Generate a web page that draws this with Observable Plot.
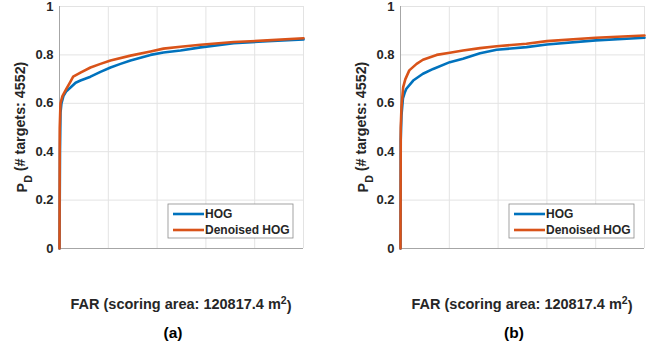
<!DOCTYPE html>
<html><head><meta charset="utf-8">
<script src="https://cdn.jsdelivr.net/npm/d3@7"></script>
<script src="https://cdn.jsdelivr.net/npm/@observablehq/plot@0.6"></script>
<style>
body{margin:0;background:#fff}
#wrap{display:flex;width:656px;height:347px}
svg text{font-family:"Liberation Sans",Arial,sans-serif;font-weight:bold}
</style>
</head><body><div id="wrap"></div>
<script>
const seriesNames = ["HOG", "Denoised HOG"];
const seriesColors = ["#0072BD", "#D95319"];
const yTicks = [0, 0.2, 0.4, 0.6, 0.8, 1];
const xGrid = [1, 2, 3, 4, 5];
const xDomain = [0, 5];
const yLabelMain = "P";
const yLabelSub = "D";
const yLabelRest = " (# targets: 4552)";
const xLabelMain = "FAR (scoring area: 120817.4 m";
const xLabelSup = "2";
const xLabelEnd = ")";
const panelLetters = ["(a)", "(b)"];

// Panel (a)
const aHogX = [0, 0.01, 0.02, 0.04, 0.08, 0.14, 0.225, 0.33, 0.43, 0.635, 0.84, 1.045, 1.25, 1.455, 1.865, 2.13, 2.48, 2.89, 3.57, 4.26, 5];
const aHogY = [0, 0.40, 0.56, 0.60, 0.63, 0.65, 0.665, 0.685, 0.694, 0.71, 0.73, 0.748, 0.763, 0.777, 0.80, 0.81, 0.818, 0.831, 0.848, 0.857, 0.864];
const aDenX = [0, 0.005, 0.02, 0.06, 0.14, 0.225, 0.28, 0.43, 0.635, 0.84, 1.045, 1.455, 1.865, 2.13, 2.48, 2.89, 3.57, 4.26, 5];
const aDenY = [0, 0.5, 0.6, 0.63, 0.66, 0.69, 0.71, 0.727, 0.748, 0.763, 0.777, 0.797, 0.814, 0.826, 0.834, 0.842, 0.853, 0.86, 0.869];

// Panel (b)
const bHogX = [0, 0.005, 0.02, 0.05, 0.09, 0.12, 0.26, 0.46, 0.67, 1.01, 1.28, 1.63, 1.97, 2.58, 3.0, 4.0, 5];
const bHogY = [0, 0.45, 0.55, 0.62, 0.646, 0.66, 0.694, 0.722, 0.742, 0.77, 0.784, 0.807, 0.821, 0.832, 0.843, 0.86, 0.871];
const bDenX = [0, 0.005, 0.02, 0.055, 0.1, 0.18, 0.33, 0.46, 0.74, 1.01, 1.28, 1.63, 1.97, 2.58, 3.0, 4.0, 5];
const bDenY = [0, 0.5, 0.584, 0.667, 0.7, 0.736, 0.763, 0.78, 0.80, 0.809, 0.818, 0.828, 0.836, 0.846, 0.857, 0.871, 0.88];

function rows(xs, ys, name) { return xs.map((x, i) => ({x, y: ys[i], s: name})); }

function panel(series, letter, ml, mr) {
  const W = 328, H = 347, mt = 6, mb = 99;
  const data = series.flatMap(([xs, ys], i) => rows(xs, ys, seriesNames[i]));
  const svg = Plot.plot({
    width: W, height: H,
    marginLeft: ml, marginRight: mr, marginTop: mt, marginBottom: mb,
    style: {fontFamily: '"Liberation Sans", Arial, sans-serif', fontSize: "13px", fontWeight: "bold", color: "#262626", background: "#fff", overflow: "visible"},
    x: {domain: xDomain, axis: null},
    y: {domain: [0, 1], ticks: yTicks, tickSize: 0, tickPadding: 6, label: null,
        tickFormat: d => (d === 0 || d === 1) ? String(d) : d.toFixed(1)},
    color: {domain: seriesNames, range: seriesColors},
    marks: [
      Plot.gridX(xGrid, {stroke: "#e3e3e3", strokeOpacity: 1}),
      Plot.gridY(yTicks.filter(d => d > 0), {stroke: "#e3e3e3", strokeOpacity: 1}),
      Plot.ruleY([0], {stroke: "#a6a6a6", strokeWidth: 1}),
      Plot.ruleX([0], {stroke: "#a6a6a6", strokeWidth: 1}),
      Plot.line(data, {x: "x", y: "y", z: "s", stroke: "s", strokeWidth: 2.6, strokeLinejoin: "round"})
    ]
  });
  const sel = d3.select(svg);
  const fx0 = ml, fx1 = W - mr, fy0 = mt, fy1 = H - mb;
  const cx = (fx0 + fx1) / 2;
  // y label
  const yl = sel.append("text")
    .attr("transform", `translate(${ml - 32},${(fy0 + fy1) / 2}) rotate(-90)`)
    .attr("text-anchor", "middle").attr("fill", "#262626").attr("font-size", 14.3);
  yl.append("tspan").text(yLabelMain);
  yl.append("tspan").attr("font-size", 10.5).attr("dy", "0.45em").text(yLabelSub);
  yl.append("tspan").attr("dy", "-0.45em").text(yLabelRest);
  // x label
  const xl = sel.append("text").attr("x", cx).attr("y", 309).attr("text-anchor", "middle")
    .attr("fill", "#262626").attr("font-size", 14.5);
  xl.append("tspan").text(xLabelMain);
  xl.append("tspan").attr("font-size", 10.5).attr("dy", "-0.5em").text(xLabelSup);
  xl.append("tspan").attr("dy", "0.5em").text(xLabelEnd);
  // panel letter
  sel.append("text").attr("x", cx - 8).attr("y", 338).attr("text-anchor", "middle")
    .attr("fill", "#000").attr("font-size", 15.5).text(letter);
  // legend (south-east inside)
  const bw = 125, bh = 34;
  const bx = fx1 - 10 - bw, by = fy1 - 10 - bh;
  const g = sel.append("g");
  g.append("rect").attr("x", bx).attr("y", by).attr("width", bw).attr("height", bh)
    .attr("fill", "#fff").attr("stroke", "#8c8c8c").attr("stroke-width", 0.8);
  seriesNames.forEach((n, i) => {
    const yy = by + 10 + i * 16;
    g.append("line").attr("x1", bx + 5).attr("x2", bx + 36).attr("y1", yy).attr("y2", yy)
      .attr("stroke", seriesColors[i]).attr("stroke-width", 2.6);
    g.append("text").attr("x", bx + 37).attr("y", yy).attr("dy", "0.36em")
      .attr("text-anchor", "start")
      .attr("font-size", 12).attr("fill", "#262626").text(n);
  });
  return svg;
}

const wrap = document.getElementById("wrap");
wrap.appendChild(panel([[aHogX, aHogY], [aDenX, aDenY]], panelLetters[0], 59, 25));
wrap.appendChild(panel([[bHogX, bHogY], [bDenX, bDenY]], panelLetters[1], 72, 12));
</script>
</body></html>
